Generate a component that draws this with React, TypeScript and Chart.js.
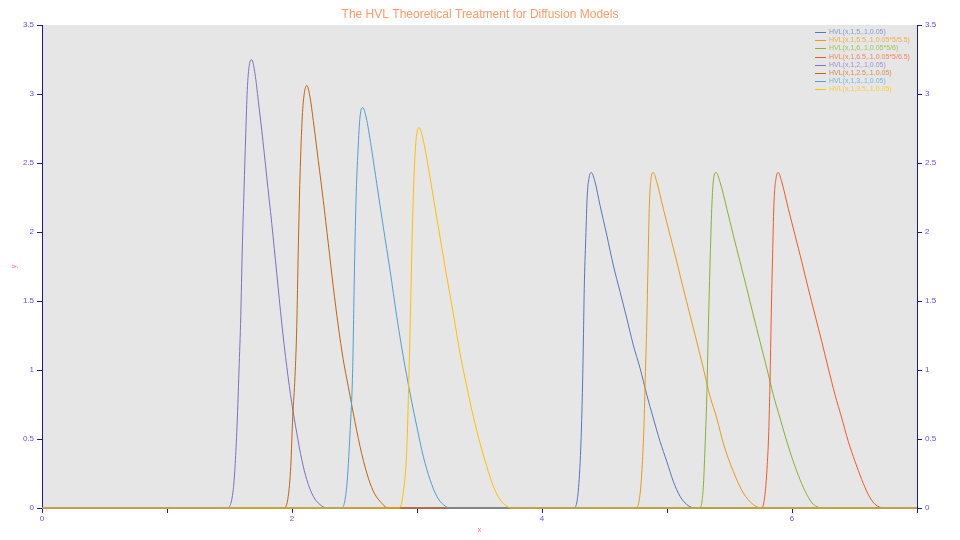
import React, { useEffect, useRef } from "react";
import { Chart, registerables } from "chart.js";

Chart.register(...registerables);

const chartTitle = "The HVL Theoretical Treatment for Diffusion Models";
const xTitle = "x";
const yTitle = "y";

const seriesLabels = [
  "HVL(x,1,5,.1,0.05)",
  "HVL(x,1,5.5,.1,0.05*5/5.5)",
  "HVL(x,1,6,.1,0.05*5/6)",
  "HVL(x,1,6.5,.1,0.05*5/6.5)",
  "HVL(x,1,2,.1,0.05)",
  "HVL(x,1,2.5,.1,0.05)",
  "HVL(x,1,3,.1,0.05)",
  "HVL(x,1,3.5,.1,0.05)",
];
const lineColors = ["#5577BB", "#E89B1A", "#8AB034", "#F05A28", "#8070C0", "#C0650F", "#4F9FD0", "#FFC000"];
const textColors = ["#7F9BD2", "#EDAE4E", "#A2C25A", "#F4845F", "#A092D0", "#D38D4B", "#78B5DC", "#FFCB36"];

// x positions and y values (each curve sits on y = 0 elsewhere in 0..7)
const x5 = [0, 4.256, 4.29, 4.31, 4.322, 4.33, 4.338, 4.35, 4.362, 4.378, 4.394, 4.424, 4.464, 4.518, 4.57, 4.624, 4.678, 4.73, 4.784, 4.838, 4.89, 4.944, 4.998, 5.05, 5.104, 5.158, 5.224, 7];
const y5 = [0, 0, 0.122, 0.435, 0.797, 1.158, 1.592, 1.954, 2.267, 2.399, 2.431, 2.363, 2.194, 1.978, 1.761, 1.568, 1.375, 1.182, 1.014, 0.821, 0.652, 0.483, 0.338, 0.194, 0.085, 0.025, 0, 0];

const x55 = [0, 4.752, 4.784, 4.802, 4.816, 4.826, 4.838, 4.848, 4.858, 4.872, 4.89, 4.918, 4.97, 5.024, 5.078, 5.13, 5.184, 5.238, 5.29, 5.344, 5.398, 5.45, 5.53, 5.61, 5.69, 5.758, 7];
const y55 = [0, 0, 0.098, 0.315, 0.604, 0.941, 1.327, 1.761, 2.171, 2.388, 2.431, 2.363, 2.171, 1.978, 1.785, 1.592, 1.399, 1.206, 1.014, 0.81, 0.652, 0.47, 0.266, 0.11, 0.025, 0, 0];

const x6 = [0, 5.264, 5.29, 5.304, 5.318, 5.33, 5.344, 5.358, 5.37, 5.392, 5.424, 5.478, 5.53, 5.584, 5.638, 5.69, 5.744, 5.798, 5.85, 5.904, 5.958, 6.01, 6.064, 6.118, 6.17, 6.25, 7];
const y6 = [0, 0, 0.146, 0.435, 0.797, 1.278, 1.761, 2.171, 2.363, 2.431, 2.363, 2.171, 1.978, 1.785, 1.592, 1.399, 1.206, 1.014, 0.821, 0.652, 0.483, 0.338, 0.206, 0.098, 0.027, 0, 0];

const x65 = [0, 5.758, 5.784, 5.802, 5.814, 5.824, 5.834, 5.846, 5.856, 5.872, 5.89, 5.918, 5.97, 6.024, 6.078, 6.13, 6.184, 6.238, 6.29, 6.344, 6.398, 6.45, 6.504, 6.558, 6.61, 6.664, 6.744, 7];
const y65 = [0, 0, 0.098, 0.315, 0.555, 0.917, 1.399, 1.881, 2.218, 2.388, 2.431, 2.363, 2.171, 1.978, 1.785, 1.592, 1.399, 1.206, 1.014, 0.821, 0.652, 0.483, 0.338, 0.206, 0.098, 0.027, 0, 0];

const x2 = [0, 1.478, 1.53, 1.558, 1.576, 1.59, 1.602, 1.616, 1.63, 1.642, 1.658, 1.678, 1.704, 1.73, 1.758, 1.798, 1.838, 1.878, 1.918, 1.958, 1.998, 2.038, 2.078, 2.118, 2.17, 2.224, 2.278, 7];
const y2 = [0, 0, 0.134, 0.544, 1.0, 1.387, 1.869, 2.303, 2.713, 3.026, 3.207, 3.248, 3.147, 2.954, 2.737, 2.399, 2.062, 1.7, 1.339, 1.025, 0.761, 0.544, 0.351, 0.206, 0.085, 0.025, 0, 0];

const x25 = [0, 1.936, 1.97, 1.99, 2.006, 2.024, 2.038, 2.05, 2.064, 2.082, 2.098, 2.118, 2.144, 2.17, 2.21, 2.25, 2.29, 2.33, 2.37, 2.41, 2.45, 2.49, 2.544, 2.598, 2.65, 2.704, 2.77, 7];
const y25 = [0, 0, 0.085, 0.302, 0.664, 0.953, 1.315, 1.869, 2.399, 2.833, 3.002, 3.062, 2.978, 2.809, 2.52, 2.23, 1.918, 1.604, 1.32, 1.074, 0.881, 0.688, 0.447, 0.254, 0.122, 0.049, 0, 0];

const x3 = [0, 2.398, 2.438, 2.464, 2.486, 2.498, 2.512, 2.528, 2.544, 2.566, 2.598, 2.638, 2.678, 2.73, 2.784, 2.838, 2.89, 2.944, 2.998, 3.05, 3.104, 3.158, 3.21, 3.264, 7];
const y3 = [0, 0, 0.158, 0.544, 1.025, 1.652, 2.231, 2.592, 2.833, 2.901, 2.809, 2.592, 2.351, 2.038, 1.724, 1.387, 1.098, 0.833, 0.592, 0.375, 0.206, 0.085, 0.025, 0, 0];

const x35 = [0, 2.858, 2.89, 2.918, 2.936, 2.95, 2.962, 2.976, 2.992, 3.016, 3.05, 3.09, 3.13, 3.184, 3.238, 3.29, 3.344, 3.398, 3.45, 3.504, 3.558, 3.61, 3.664, 3.718, 3.758, 7];
const y35 = [0, 0, 0.11, 0.423, 0.978, 1.508, 1.99, 2.399, 2.665, 2.757, 2.665, 2.472, 2.255, 1.965, 1.676, 1.411, 1.122, 0.881, 0.664, 0.471, 0.302, 0.158, 0.061, 0.013, 0, 0];

const seriesX = [x5, x55, x6, x65, x2, x25, x3, x35];
const seriesY = [y5, y55, y6, y65, y2, y25, y3, y35];

const xTickValues = [0, 1, 2, 3, 4, 5, 6, 7];
const xLabelledTicks = [0, 2, 4, 6];

const AXIS = "#1C1C86";
const TICK_TEXT = "#6A4CE8";
const AXIS_TITLE = "#FF6A9A";
const TITLE = "#FF9A66";
const FONT = "'Liberation Sans', Arial, sans-serif";

const bgPlugin = {
  id: "plotBg",
  beforeDraw(chart: any) {
    const { ctx, chartArea } = chart;
    ctx.save();
    ctx.fillStyle = "#E6E6E6";
    ctx.fillRect(chartArea.left, chartArea.top, chartArea.right - chartArea.left, chartArea.bottom - chartArea.top);
    ctx.restore();
  },
};

const legendPlugin = {
  id: "innerLegend",
  afterDraw(chart: any) {
    const { ctx, chartArea } = chart;
    ctx.save();
    ctx.font = `7px ${FONT}`;
    ctx.textBaseline = "middle";
    const x0 = chartArea.right - 102;
    const y0 = chartArea.top + 7;
    seriesLabels.forEach((label, i) => {
      const y = y0 + i * 8.2;
      ctx.strokeStyle = lineColors[i];
      ctx.lineWidth = 1;
      ctx.beginPath();
      ctx.moveTo(x0, Math.round(y) + 0.5);
      ctx.lineTo(x0 + 11, Math.round(y) + 0.5);
      ctx.stroke();
      ctx.fillStyle = textColors[i];
      ctx.fillText(label, x0 + 14, y);
    });
    ctx.restore();
  },
};

const fmt = (v: any) => String(Number(v));

export default function App() {
  const ref = useRef<HTMLCanvasElement | null>(null);
  useEffect(() => {
    document.body.style.margin = "0";
    const canvas = ref.current;
    if (!canvas) return;
    const datasets = seriesLabels.map((label, i) => ({
      label,
      data: seriesX[i].map((x, j) => ({ x, y: seriesY[i][j] })),
      borderColor: lineColors[i],
      backgroundColor: lineColors[i],
      borderWidth: 1,
      pointRadius: 0,
      fill: false,
      cubicInterpolationMode: "monotone" as const,
      clip: false as any,
      order: seriesLabels.length - i,
    }));
    const tickFont = { family: FONT, size: 8 };
    const chart = new Chart(canvas, {
      type: "line",
      data: { datasets },
      plugins: [bgPlugin, legendPlugin],
      options: {
        responsive: false,
        animation: false,
        layout: { padding: 0 },
        plugins: {
          legend: { display: false },
          tooltip: { enabled: false },
          title: {
            display: true,
            text: chartTitle,
            color: TITLE,
            font: { family: FONT, size: 12, weight: "normal" },
            padding: { top: 7, bottom: 3.6 },
          },
        },
        scales: {
          x: {
            type: "linear",
            min: 0,
            max: 7,
            afterFit: (s: any) => {
              s.height = 32;
            },
            afterBuildTicks: (s: any) => {
              s.ticks = xTickValues.map((v) => ({ value: v }));
            },
            ticks: {
              autoSkip: false,
              maxRotation: 0,
              padding: 1,
              color: TICK_TEXT,
              font: tickFont,
              callback: (v: any) => (xLabelledTicks.includes(Number(v)) ? fmt(v) : ""),
            },
            grid: { drawOnChartArea: false, drawTicks: true, tickLength: 5, color: AXIS },
            border: { display: true, color: AXIS, width: 1 },
            title: {
              display: true,
              text: xTitle,
              color: AXIS_TITLE,
              font: { family: FONT, size: 7 },
              padding: { top: 0, bottom: 6 },
            },
          },
          y: {
            type: "linear",
            position: "left",
            min: 0,
            max: 3.5,
            afterFit: (s: any) => {
              s.width = 42;
            },
            ticks: { stepSize: 0.5, padding: 3, color: TICK_TEXT, font: tickFont, callback: fmt },
            grid: { drawOnChartArea: false, drawTicks: true, tickLength: 5, color: AXIS },
            border: { display: true, color: AXIS, width: 1 },
            title: {
              display: true,
              text: yTitle,
              color: AXIS_TITLE,
              font: { family: FONT, size: 7 },
              padding: { top: 10, bottom: 0 },
            },
          },
          y2: {
            type: "linear",
            position: "right",
            min: 0,
            max: 3.5,
            afterFit: (s: any) => {
              s.width = 43;
            },
            ticks: { stepSize: 0.5, padding: 3, color: TICK_TEXT, font: tickFont, callback: fmt },
            grid: { drawOnChartArea: false, drawTicks: true, tickLength: 5, color: AXIS },
            border: { display: true, color: AXIS, width: 1 },
          },
        },
      },
    });
    return () => chart.destroy();
  }, []);
  return <canvas ref={ref} width={960} height={540} style={{ display: "block" }} />;
}
